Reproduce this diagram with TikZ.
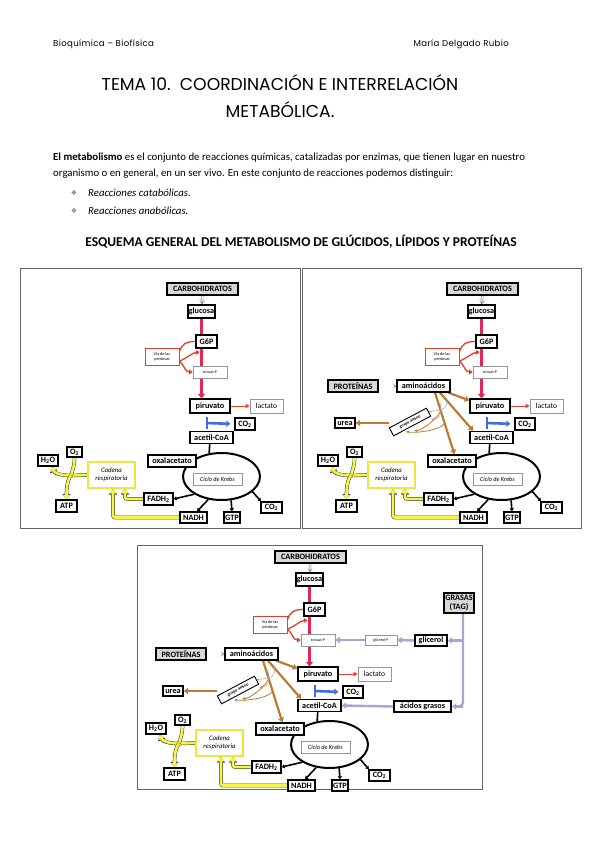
\documentclass[tikz,border=0pt]{standalone}
\usepackage{fontspec}
\setmainfont{Carlito}
\newfontfamily\popfont{Poppins}
\newfontfamily\pophdr[LetterSpace=4]{Poppins}
\newfontfamily\dejafont{DejaVu Sans}
\usetikzlibrary{shapes.geometric,arrows.meta,backgrounds,calc}

\definecolor{mred}{RGB}{228,38,86}
\definecolor{ored}{RGB}{226,64,44}
\definecolor{mblue}{RGB}{66,108,222}
\definecolor{mbrown}{RGB}{192,122,48}
\definecolor{mpurple}{RGB}{178,160,212}
\definecolor{myellow}{RGB}{246,244,70}
\definecolor{ygold}{RGB}{236,230,60}
\definecolor{boxgray}{RGB}{216,216,216}
\definecolor{framegray}{RGB}{100,100,100}
\definecolor{thingray}{RGB}{150,150,150}
\definecolor{bulletgray}{RGB}{120,120,120}

\tikzset{
  sz/.style 2 args={minimum width=#1, minimum height=#2},
  bx/.style={draw=black, line width=1.3pt, fill=white, inner sep=0pt, align=center, font=\fontsize{8.2}{8.6}\selectfont\bfseries},
  gbx/.style={bx, fill=boxgray},
  tbx/.style={draw=thingray, line width=0.6pt, fill=white, inner sep=0pt, align=center, font=\fontsize{7.6}{8}\selectfont},
  tinytxt/.style={font=\fontsize{4}{4.4}\selectfont},
  pbx/.style={draw=ored, line width=0.6pt, fill=white, inner sep=0pt, align=center, font=\fontsize{4.2}{4.8}\selectfont},
  ybx/.style={draw=ygold, line width=1.8pt, fill=white, inner sep=0pt, align=center, font=\fontsize{6.8}{8}\selectfont\itshape},
  kbx/.style={tbx, font=\fontsize{6.2}{7}\selectfont\itshape},
  grbx/.style={draw=black, line width=0.9pt, fill=white, inner sep=0pt, font=\fontsize{4.4}{5}\selectfont\bfseries},
  hollowarr/.style={draw=black!60, double=white, double distance=1.3pt, line width=0.45pt, -{Implies}},
  redline/.style={draw=mred, line width=2.6pt, -{Triangle[width=7pt,length=4.5pt]}},
  pentarr/.style={draw=ored, line width=1.3pt, -{Triangle[width=4.5pt,length=3.5pt]}},
  pentline/.style={draw=ored, line width=1.3pt},
  thinred/.style={draw=ored, line width=0.8pt, -{Triangle[width=4pt,length=4pt]}},
  bluearr/.style={draw=mblue, line width=2.6pt, -{Triangle[width=6pt,length=4pt]}},
  blueline/.style={draw=mblue, line width=2.6pt},
  kline/.style={draw=black, line width=1.6pt},
  karr/.style={draw=black, line width=1.6pt, -{Triangle[width=4pt,length=3pt]}},
  yline/.style={draw=myellow, line width=2.6pt, preaction={draw=black!75, line width=3.6pt}},
  yarr/.style={draw=myellow, line width=2.6pt, -{Triangle[width=6.5pt,length=4.5pt]}, preaction={draw=black!75, line width=3.6pt, -{Triangle[width=8pt,length=5.6pt]}}},
  brownarr/.style={draw=mbrown, line width=2.2pt, -{Triangle[width=6pt,length=4.5pt]}},
  grayhook/.style={draw=gray!70, line width=0.5pt, -{Stealth[width=2.5pt,length=2.5pt]}},
  brownhook/.style={draw=mbrown, line width=0.8pt, -{Stealth[width=3pt,length=3pt]}},
  purparr/.style={draw=mpurple, line width=2.4pt, -{Triangle[width=6pt,length=4.5pt]}},
  purpline/.style={draw=mpurple, line width=2.4pt},
  panelframe/.style={draw=framegray, line width=0.9pt},
  hdr/.style={font=\pophdr\fontsize{8.6}{9}\selectfont, inner sep=0pt},
  ttl/.style={font=\popfont\fontsize{17.2}{19}\selectfont, inner sep=0pt},
  body/.style={font=\fontsize{10.8}{12}\selectfont, inner sep=0pt},
}

\newcommand{\basepanel}{%
  \node[gbx, sz={71}{12}] (carbo) at (202.5,289) {CARBOHIDRATOS};
  \node[bx, sz={27}{13}] (glucosa) at (201.5,311.5) {glucosa};
  \node[bx, sz={21}{13}] (g6p) at (206.5,341.5) {G6P};
  \node[pbx, sz={34}{17}] (pent) at (162,356.5) {Vía de las\\pentosas};
  \node[tbx, tinytxt, sz={34}{12}] (trio) at (210,372) {triosas-P};
  \node[bx, sz={40}{14}] (piru) at (210,406) {piruvato};
  \node[tbx, sz={33}{14}] (lact) at (266.5,406) {lactato};
  \node[bx, sz={20}{12}] (co2a) at (245,424) {CO\textsubscript{2}};
  \node[bx, sz={43}{12}] (acet) at (211.5,437.5) {acetil-CoA};
  \node[ellipse, draw, line width=2pt, fill=white, minimum width=77, minimum height=47, inner sep=0pt] (cyc) at (221.5,476.5) {};
  \node[kbx, sz={49}{12}] (krebs) at (217.5,479) {Ciclo de Krebs};
  \node[bx, sz={48}{12}] (oxal) at (172,461) {oxalacetato};
  \node[bx, sz={29}{12}] (fadh) at (158.5,499) {FADH\textsubscript{2}};
  \node[bx, sz={27}{11}] (nadh) at (193.5,517.5) {NADH};
  \node[bx, sz={16}{11}] (gtp) at (232,517.5) {GTP};
  \node[bx, sz={21}{11}] (co2b) at (271.5,507.5) {CO\textsubscript{2}};
  \node[ybx, sz={47}{26}] (cad) at (111.5,475) {Cadena\\respiratoria};
  \node[bx, sz={15}{10}] (o2) at (74.5,452) {O\textsubscript{2}};
  \node[bx, sz={20}{11}] (h2o) at (48,460.5) {H\textsubscript{2}O};
  \node[bx, sz={21}{12}] (atp) at (66.5,506) {ATP};
  \coordinate (jn) at (71,475.5);
  \coordinate (bar) at (207,423);
  \coordinate (bartop) at (207,417);
  \coordinate (barbot) at (207,429);
  \coordinate (rl) at (199.5,352);
  \begin{scope}[on background layer]
    \draw[hollowarr] (carbo) -- (glucosa);
    \draw[redline] (glucosa.south) -- (glucosa.south |- piru.north);
    \draw[pentline] (g6p.west) .. controls +(-10,0) and +(3,-8) .. (pent.15);
    \draw[pentarr] (pent.-15) .. controls +(8,-3) and +(-8,1) .. (rl);
    \draw[pentarr] (pent.-15) .. controls +(6,5) and +(-8,0) .. (trio.west);
    \draw[thinred] (piru.east) -- (lact.west);
    \draw[blueline] (bartop) -- (barbot);
    \draw[bluearr, shorten >=4pt] (bar) -- (co2a.west);
    \draw[kline] (acet.255) -- (cyc.118);
    \draw[karr] (cyc.213) -- (fadh.east);
    \draw[karr] (cyc.240) -- (nadh.60);
    \draw[karr] (cyc.292) -- (gtp.north);
    \draw[karr] (cyc.334) -- (co2b.150);
    \draw[yline] (cad.west) -- (jn);
    \draw[yline] (o2.south) .. controls +(0,8) and +(2,-7) .. (jn);
    \draw[yarr] (jn) .. controls +(-8,0) and +(3,7) .. (h2o.-60);
    \draw[yarr] (jn) .. controls +(-4,4) and +(0,-9) .. (atp.north);
    \draw[yarr, rounded corners=2pt] (fadh.west) -| ([xshift=13.5pt]cad.south);
    \draw[yarr, rounded corners=2pt] (nadh.west) -| ([xshift=1.5pt]cad.south);
  \end{scope}
}

\newcommand{\protpanel}{%
  \node[gbx, sz={50}{12}] (prot) at (73,386) {PROTEÍNAS};
  \node[bx, sz={53}{12}] (amino) at (143.5,386) {aminoácidos};
  \node[bx, sz={20}{10}] (urea) at (65,423) {urea};
  \node[grbx, sz={42}{9}, rotate=28] (grupo) at (130,422) {grupo amino};
  \coordinate (gh1) at (166,398);
  \coordinate (gh2) at (160,402);
  \coordinate (bh1) at (164,424);
  \coordinate (bh2) at (160,412);
  \begin{scope}[on background layer]
    \draw[hollowarr] (prot) -- (amino);
    \draw[brownarr] (amino.-15) -- (piru.165);
    \draw[brownarr] (amino.-22) -- (acet.160);
    \draw[brownarr] (amino.-30) -- (oxal.70);
    \draw[brownarr] (grupo.north west |- urea.east) -- (urea.east);
    \draw[grayhook] (gh1) .. controls +(4,14) and +(8,-2) .. (grupo.east);
    \draw[grayhook] (gh2) .. controls +(2,14) and +(8,0) .. ([yshift=-3pt]grupo.south east);
    \draw[brownhook] (bh1) .. controls +(-5,7) and +(6,2) .. ([xshift=-6pt,yshift=-5pt]grupo.south);
    \draw[brownhook] (bh2) .. controls +(-4,8) and +(6,1) .. ([xshift=2pt,yshift=-4pt]grupo.south);
  \end{scope}
}

\begin{document}
\begin{tikzpicture}[x=1pt,y=-1pt]
\useasboundingbox (0,0) rectangle (599,848);
\begin{scope}[on background layer]
  \fill[white] (0,0) rectangle (599,848);
\end{scope}

% header
\node[hdr, anchor=west] (hl) at (53,44.5) {Bioquímica – Biofísica};
\node[hdr, anchor=east] (hr) at (509,44.5) {María Delgado Rubio};
\node[ttl] (t1) at (280,83) {TEMA 10.\ \ COORDINACIÓN E INTERRELACIÓN};
\node[ttl] (t2) at (280,110) {METABÓLICA.};

% paragraph
\node[body, anchor=west] (p1) at (53,158) {\textbf{El metabolismo} es el conjunto de reacciones químicas, catalizadas por enzimas, que tienen lugar en nuestro};
\node[body, anchor=west] (p2) at (53,174) {organismo o en general, en un ser vivo. En este conjunto de reacciones podemos distinguir:};
\node[inner sep=0pt, text=bulletgray, font=\dejafont\fontsize{7}{8}\selectfont] (b1) at (74,193) {❖};
\node[inner sep=0pt, text=bulletgray, font=\dejafont\fontsize{7}{8}\selectfont] (b2) at (74,211) {❖};
\node[body, anchor=west, font=\fontsize{10.8}{12}\selectfont\itshape] (i1) at (88,193) {Reacciones catabólicas.};
\node[body, anchor=west, font=\fontsize{10.8}{12}\selectfont\itshape] (i2) at (88,211) {Reacciones anabólicas.};
\node[inner sep=0pt, font=\fontsize{13.5}{15}\selectfont\bfseries] (sec) at (301,242) {ESQUEMA GENERAL DEL METABOLISMO DE GLÚCIDOS, LÍPIDOS Y PROTEÍNAS};

% panel frames
\draw[panelframe] (20,268) rectangle (300,528);
\draw[panelframe] (302,268) rectangle (581,528);
\draw[panelframe] (137,545) rectangle (482,789);

% panel 1
\begin{scope}[name prefix=p1-]
  \basepanel
\end{scope}

% panel 2
\begin{scope}[shift={(280,0)}, name prefix=p2-]
  \basepanel
  \protpanel
\end{scope}

% panel 3
\begin{scope}[shift={(108,268)}, name prefix=p3-]
  \basepanel
  \protpanel
\end{scope}

% lipids (panel 3)
\node[gbx, sz={30}{20}] (grasas) at (459,603) {GRASAS\\(TAG)};
\node[bx, sz={32}{11}] (glic) at (431,640.5) {glicerol};
\node[tbx, tinytxt, sz={32}{10}] (glicp) at (381,640) {glicerol-P};
\node[bx, sz={57}{11}] (acgr) at (422.5,706.5) {ácidos grasos};
\coordinate (pv) at (463,640.5);
\coordinate (pc) at (463,706.5);
\begin{scope}[on background layer]
  \draw[purpline, rounded corners=4pt] ([xshift=4pt]grasas.south) -- (pc) -- ([xshift=6pt]acgr.east);
  \draw[purparr] (pc) -- (acgr.east);
  \draw[purparr] (pv) -- (glic.east);
  \draw[purparr] (glic.west) -- (glicp.east);
  \draw[purparr] (glicp.west) -- (p3-trio.east);
  \draw[purparr] (acgr.west) -- (p3-acet.east);
\end{scope}
\end{tikzpicture}
\end{document}
